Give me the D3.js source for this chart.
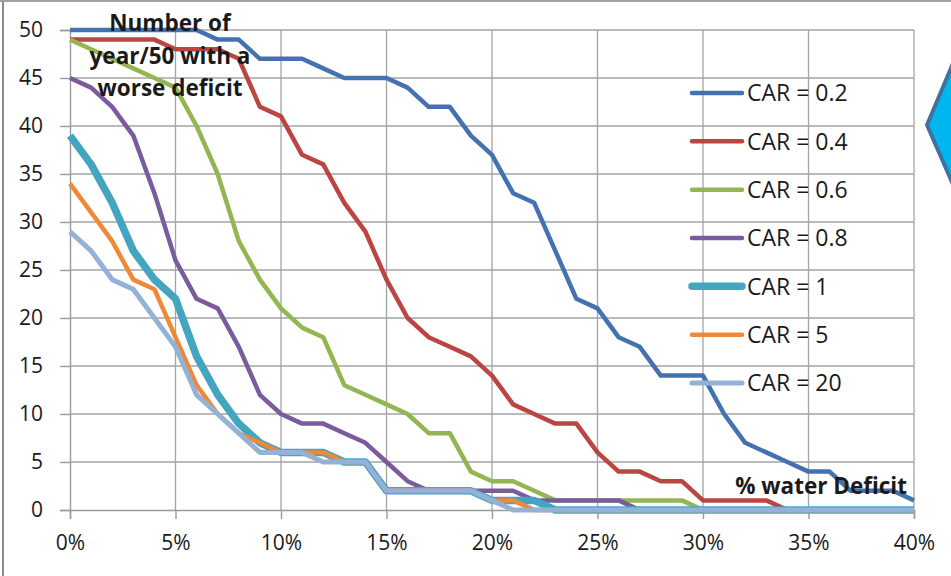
<!DOCTYPE html>
<html>
<head>
<meta charset="utf-8">
<script src="https://cdn.jsdelivr.net/npm/d3@7"></script>
<style>
  html, body { margin: 0; padding: 0; background: #fff; }
  svg { display: block; }
  text { font-family: "Open Sans", "Liberation Sans", sans-serif; fill: #1a1a1a; }
</style>
</head>
<body>
<svg id="chart" width="951" height="576"></svg>
<script>
// Percentage of water deficit (x axis)
const deficitPct = [0,1,2,3,4,5,6,7,8,9,10,11,12,13,14,15,16,17,18,19,20,
                    21,22,23,24,25,26,27,28,29,30,31,32,33,34,35,36,37,38,39,40];

// Number of years out of 50 with a worse deficit, one list per CAR value
const car02 = [50,50,50,50,50,50,50,49,49,47,47,47,46,45,45,45,44,42,42,39,37,
               33,32,27,22,21,18,17,14,14,14,10,7,6,5,4,4,2,2,2,1];
const car04 = [49,49,49,49,49,48,48,48,47,42,41,37,36,32,29,24,20,18,17,16,14,
               11,10,9,9,6,4,4,3,3,1,1,1,1,0,0,0,0,0,0,0];
const car06 = [49,48,47,46,45,44,40,35,28,24,21,19,18,13,12,11,10,8,8,4,3,
               3,2,1,1,1,1,1,1,1,0,0,0,0,0,0,0,0,0,0,0];
const car08 = [45,44,42,39,33,26,22,21,17,12,10,9,9,8,7,5,3,2,2,2,2,
               2,1,1,1,1,1,0,0,0,0,0,0,0,0,0,0,0,0,0,0];
const car1  = [39,36,32,27,24,22,16,12,9,7,6,6,6,5,5,2,2,2,2,2,1,
               1,1,0,0,0,0,0,0,0,0,0,0,0,0,0,0,0,0,0,0];
const car5  = [34,31,28,24,23,18,13,10,8,7,6,6,6,5,5,2,2,2,2,2,1,
               1,0,0,0,0,0,0,0,0,0,0,0,0,0,0,0,0,0,0,0];
const car20 = [29,27,24,23,20,17,12,10,8,6,6,6,5,5,5,2,2,2,2,2,1,
               0,0,0,0,0,0,0,0,0,0,0,0,0,0,0,0,0,0,0,0];

const seriesNames = ["CAR = 0.2","CAR = 0.4","CAR = 0.6","CAR = 0.8","CAR = 1","CAR = 5","CAR = 20"];
const seriesValues = [car02, car04, car06, car08, car1, car5, car20];

const xTicks = [0,5,10,15,20,25,30,35,40];
const yTicks = [0,5,10,15,20,25,30,35,40,45,50];

const colors = ["#4472B0","#BA4541","#93B552","#7A5C9E","#44A5C1","#F0883A","#94B1D8"];
const widths = [4.5,4.5,4.5,4.5,7.5,4.5,5];

const svg = d3.select("#chart");

// Frame edges of the slide region
svg.append("line").attr("x1",3).attr("x2",3).attr("y1",0).attr("y2",576)
   .attr("stroke","#8c8c8c").attr("stroke-width",2);
svg.append("line").attr("x1",0).attr("x2",951).attr("y1",1).attr("y2",1)
   .attr("stroke","#a0a0a0").attr("stroke-width",2);

const x = d3.scaleLinear().domain([0,40]).range([70,914]);
const y = d3.scaleLinear().domain([0,50]).range([510,30]);

// Grid
const grid = svg.append("g").attr("stroke","#a3a3a3").attr("stroke-width",1.3);
grid.selectAll("line.v").data(xTicks.slice(1)).join("line")
  .attr("x1",d=>x(d)).attr("x2",d=>x(d)).attr("y1",y(0)).attr("y2",y(50));
grid.selectAll("line.h").data(yTicks.slice(1)).join("line")
  .attr("x1",x(0)).attr("x2",x(40)).attr("y1",d=>y(d)).attr("y2",d=>y(d));

// Axes
const xAxis = svg.append("g").attr("transform",`translate(0,${y(0)})`)
  .call(d3.axisBottom(x).tickValues(xTicks).tickSize(9).tickPadding(16).tickFormat(d=>d+"%"));
const yAxis = svg.append("g").attr("transform",`translate(${x(0)},0)`)
  .call(d3.axisLeft(y).tickValues(yTicks).tickSize(10).tickPadding(17));
[xAxis,yAxis].forEach(a=>{
  a.select(".domain").attr("stroke","#9a9a9a").attr("stroke-width",1.4);
  a.selectAll(".tick line").attr("stroke","#9a9a9a").attr("stroke-width",1.4);
  a.selectAll("text").attr("font-size",21).attr("font-family","'Open Sans', sans-serif").attr("fill","#1a1a1a");
});

// Series lines
const line = d3.line().x((d,i)=>x(deficitPct[i])).y(d=>y(d));
svg.append("g").selectAll("path").data(seriesValues).join("path")
  .attr("d",d=>line(d))
  .attr("fill","none")
  .attr("stroke",(d,i)=>colors[i])
  .attr("stroke-width",(d,i)=>widths[i])
  .attr("stroke-linejoin","round");

// Legend
const legend = svg.append("g");
const ly = d3.scalePoint().domain(seriesNames).range([93,383]);
seriesNames.forEach((name,i)=>{
  legend.append("line").attr("x1",692).attr("x2",742)
    .attr("y1",ly(name)).attr("y2",ly(name))
    .attr("stroke",colors[i]).attr("stroke-width",widths[i]).attr("stroke-linecap","round");
  legend.append("text").attr("x",747).attr("y",ly(name)).attr("dy","0.36em")
    .attr("font-size",23).text(name);
});

// Axis titles
const yTitle = ["Number of","year/50 with a","worse deficit"];
svg.append("g").selectAll("text").data(yTitle).join("text")
  .attr("x",170).attr("y",(d,i)=>31+i*32.5)
  .attr("text-anchor","middle").attr("font-weight","bold").attr("font-size",22.5)
  .text(d=>d);
svg.append("text").attr("x",907).attr("y",494).attr("text-anchor","end")
  .attr("font-weight","bold").attr("font-size",22.5).text("% water Deficit");

// Arrow shape at the right edge
svg.append("path")
  .attr("d",`M927,125 L962,42 L962,205 Z`)
  .attr("fill","#00B6F0").attr("stroke","#41719C").attr("stroke-width",4)
  .attr("stroke-linejoin","miter");
</script>
</body>
</html>
